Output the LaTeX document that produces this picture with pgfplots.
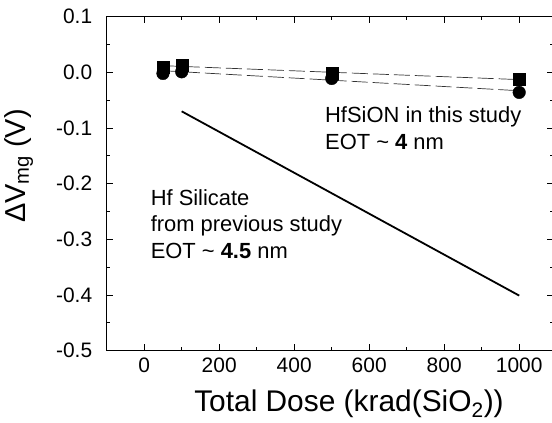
\documentclass[border=0pt]{standalone}
\usepackage{fontspec}
\setmainfont{Liberation Sans}
\usepackage{pgfplots}
\pgfplotsset{compat=1.18}
\begin{document}
\begin{tikzpicture}
\path[use as bounding box] (-106.7bp,-72.3bp) rectangle (445.3bp,350.7bp);
\begin{axis}[
  at={(0,0)}, anchor=south west,
  scale only axis,
  width=447bp, height=334bp,
  xmin=-100, xmax=1092,
  ymin=-0.5, ymax=0.1,
  xtick={0,200,400,600,800,1000},
  ytick={-0.5,-0.4,-0.3,-0.2,-0.1,0,0.1},
  minor x tick num=1, minor y tick num=1,
  major tick length=6.5bp, minor tick length=3.5bp,
  tick style={black, line width=0.8bp},
  axis line style={black, line width=0.9bp},
  /pgf/number format/assume math mode=true,
  /pgf/number format/set thousands separator={},
  yticklabel style={/pgf/number format/fixed, /pgf/number format/fixed zerofill, /pgf/number format/precision=1, font=\fontsize{21}{24}\selectfont, xshift=-11bp},
  xticklabel style={font=\fontsize{21}{24}\selectfont, yshift=-4bp},
  scaled y ticks=false,
  xlabel={Total Dose (krad(SiO\textsubscript{2}))},
  ylabel={ΔV\textsubscript{mg} (V)},
  xlabel style={font=\fontsize{30}{32}\selectfont, at={(axis description cs:0.542,0)}, anchor=base, yshift=-61bp},
  ylabel style={font=\fontsize{29}{32}\selectfont, at={(axis description cs:0,0.553)}, anchor=center, yshift=88bp},
]
\addplot[black!80, line width=0.7bp, dash pattern=on 16bp off 5bp] coordinates {(50,0.012) (1000,-0.013)};
\addplot[black!80, line width=0.7bp, dash pattern=on 16bp off 5bp] coordinates {(50,0.003) (1000,-0.033)};
\addplot[black, line width=1.8bp] coordinates {(100,-0.07) (1000,-0.401)};
\addplot[only marks, mark=*, mark size=6.3bp, black] coordinates {(50,-0.002) (100,0.001) (500,-0.011) (1000,-0.036)};
\addplot[only marks, mark=square*, mark size=6bp, black] coordinates {(50,0.009) (100,0.013) (500,-0.001) (1000,-0.012)};
\node[anchor=base west, font=\fontsize{22}{26}\selectfont, inner sep=0pt] at (axis cs:482,-0.0898) {HfSiON in this study};
\node[anchor=base west, font=\fontsize{22}{26}\selectfont, inner sep=0pt] at (axis cs:482,-0.1377) {EOT \textasciitilde{} \textbf{4} nm};
\node[anchor=base west, font=\fontsize{22}{26}\selectfont, inner sep=0pt] at (axis cs:17,-0.239) {Hf Silicate};
\node[anchor=base west, font=\fontsize{22}{26}\selectfont, inner sep=0pt] at (axis cs:17,-0.2865) {from previous study};
\node[anchor=base west, font=\fontsize{22}{26}\selectfont, inner sep=0pt] at (axis cs:17,-0.334) {EOT \textasciitilde{} \textbf{4.5} nm};
\end{axis}
\end{tikzpicture}
\end{document}
